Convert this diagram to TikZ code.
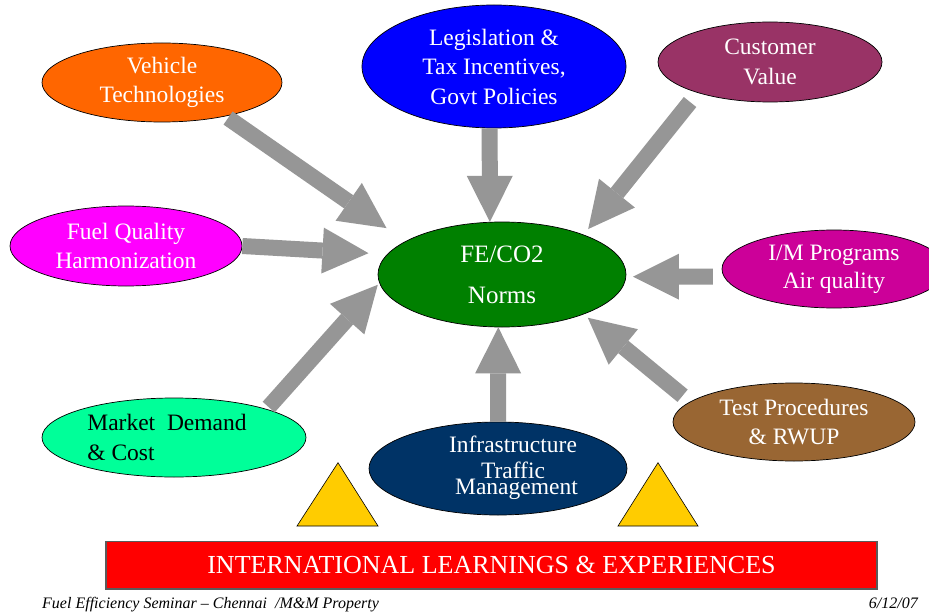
\documentclass[tikz,border=0pt]{standalone}
\usepackage{fontspec}
\setmainfont{Liberation Serif}
\usetikzlibrary{arrows.meta,shapes.geometric,calc}

\definecolor{vehorange}{HTML}{FF6600}
\definecolor{legblue}{HTML}{0000FF}
\definecolor{custmaroon}{HTML}{993366}
\definecolor{fuelmagenta}{HTML}{FF00FF}
\definecolor{fegreen}{HTML}{008000}
\definecolor{impurple}{HTML}{CC0099}
\definecolor{testbrown}{HTML}{996633}
\definecolor{marketgreen}{HTML}{00FF99}
\definecolor{infranavy}{HTML}{003366}
\definecolor{triyellow}{HTML}{FFCC00}
\definecolor{arrowgray}{HTML}{969696}
\definecolor{bannergray}{HTML}{5A5A5A}

\tikzset{
  bubble/.style={ellipse, draw=black, line width=0.7pt, inner sep=0pt, text=white, align=center, font=\fontsize{23.5}{29.5}\selectfont},
  fatarrow/.style={draw=arrowgray, line width=16pt, -{Triangle[width=46pt,length=46pt,line width'=0pt]}},
  warntri/.style={fill=triyellow, draw=black, line width=0.6pt, line join=miter},
  banner/.style={rectangle, draw=bannergray, line width=1.2pt, fill=red, inner sep=0pt, text=white, font=\fontsize{26}{30}\selectfont},
  footer/.style={inner sep=0pt, font=\fontsize{16}{19}\selectfont\itshape}
}

\begin{document}
\begin{tikzpicture}[x=1pt,y=-1pt]
    \useasboundingbox (0,0) rectangle (929,615);
    \fill[white] (0,0) rectangle (929,615);

    % factor bubbles
    \node[bubble, fill=vehorange, minimum width=240pt, minimum height=79pt] (veh) at (162,82.5) {Vehicle\\Technologies};
    \node[bubble, fill=legblue, minimum width=264pt, minimum height=123pt] (leg) at (494,66.5) {Legislation \&\\Tax Incentives,\\Govt Policies};
    \node[bubble, fill=custmaroon, minimum width=224pt, minimum height=80pt] (cust) at (770,62) {Customer\\Value};
    \node[bubble, fill=fuelmagenta, minimum width=232pt, minimum height=80pt] (fuel) at (126,246) {Fuel Quality\\Harmonization};
    \node[bubble, fill=fegreen, minimum width=248pt, minimum height=105pt, font=\fontsize{25}{41}\selectfont] (fe) at (502,274.5) {FE/CO2\\Norms};
    \node[bubble, fill=impurple, minimum width=224pt, minimum height=78pt, font=\fontsize{23.5}{28}\selectfont] (im) at (834,269) {I/M Programs\\Air quality};
    \node[bubble, fill=testbrown, minimum width=242pt, minimum height=78pt] (test) at (794,422) {Test Procedures\\\& RWUP};
    \node[bubble, fill=marketgreen, minimum width=264pt, minimum height=79pt, text=black, align=left] (market) at (174,437.5) {Market~~Demand\hspace*{14pt}\\\& Cost};
    \node[bubble, fill=infranavy, minimum width=258pt, minimum height=93pt] (infra) at (498,468.5) {};
    \node[text=white, align=center, inner sep=0pt, font=\fontsize{23.5}{29.5}\selectfont] (infratext) at (513,468) {Infrastructure\\[-3pt]Traffic\hspace*{10pt}\\[-13.5pt]\hspace*{7pt}Management};

    % arrows into the norms
    \draw[fatarrow, shorten <=3pt, shorten >=23pt] (veh.-28.4) -- (fe.161.8);
    \draw[fatarrow, shorten >=18.7pt] (fuel.east) -- (fe.170.5);
    \draw[fatarrow] (leg.-94) -- (fe.103);
    \draw[fatarrow, shorten <=11.8pt, shorten >=7.2pt] (cust.203.4) -- (fe.26.4);
    \draw[fatarrow, shorten <=11pt, shorten >=6.7pt] (im.184.7) -- (fe.-1.6);
    \draw[fatarrow, shorten <=9.5pt, shorten >=5.3pt] (test.169.9) -- (fe.-26.6);
    \draw[fatarrow] (infra.north) -- (fe.-94);
    \draw[fatarrow, shorten <=2.7pt, shorten >=2.3pt] (market.17.4) -- (fe.184.1);

    % triangles
    \draw[warntri] (297,526) -- (338,462.7) -- (378,526) -- cycle;
    \draw[warntri] (618,526) -- (658,462.7) -- (698,526) -- cycle;

    % banner and footer
    \node[banner, minimum width=771pt, minimum height=47.5pt] (intl) at (491.5,565.25) {INTERNATIONAL LEARNINGS \& EXPERIENCES};
    \node[footer, anchor=base west] (footl) at (42,608) {Fuel Efficiency Seminar -- Chennai\ \ /M\&M Property};
    \node[footer, anchor=base east] (footr) at (918,608) {6/12/07};

\end{tikzpicture}
\end{document}
